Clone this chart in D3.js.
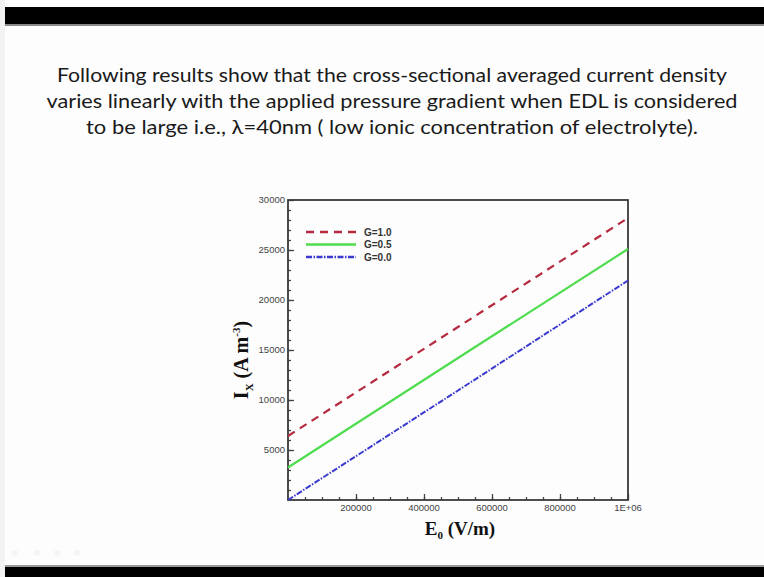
<!DOCTYPE html>
<html lang="en">
<head>
<meta charset="UTF-8" />
<title>Current density vs applied field</title>
<script src="https://d3js.org/d3.v7.min.js"></script>
<style>
  html, body { margin: 0; padding: 0; background: #fff; }
  svg { display: block; }
</style>
</head>
<body>
<div id="chart"></div>
<script>
  // values
  const titleLines = [
    "Following results show that the cross-sectional averaged current density",
    "varies linearly with the applied pressure gradient when EDL is considered",
    "to be large i.e.,  \u03bb=40nm ( low ionic concentration of electrolyte)."
  ];
  const eField = [0, 500000, 1000000];
  const seriesNames = ["G=1.0", "G=0.5", "G=0.0"];
  const g10 = [6400, 17300, 28200];
  const g05 = [3250, 14200, 25100];
  const g00 = [0, 10950, 21950];
  const xTickValues = [200000, 400000, 600000, 800000, 1000000];
  const xTickLabels = ["200000", "400000", "600000", "800000", "1E+06"];
  const yTickValues = [5000, 10000, 15000, 20000, 25000, 30000];

  const W = 764, H = 577;
  const svg = d3.select("#chart").append("svg")
    .attr("width", W).attr("height", H);

  // slide background + video bars
  svg.append("rect").attr("width", W).attr("height", H).attr("fill", "#fdfdfd");
  svg.append("rect").attr("x", 0).attr("y", 0).attr("width", 5).attr("height", H).attr("fill", "#f2f2f2");
  svg.append("rect").attr("x", 5).attr("y", 7).attr("width", W - 5).attr("height", 17).attr("fill", "#000");
  svg.append("rect").attr("x", 5).attr("y", 24).attr("width", W - 5).attr("height", 2).attr("fill", "#8a8a8a");
  svg.append("rect").attr("x", 5).attr("y", 565).attr("width", W - 5).attr("height", 3).attr("fill", "#9a9a9a");
  svg.append("rect").attr("x", 5).attr("y", 567).attr("width", W - 5).attr("height", 10).attr("fill", "#000");

  // heading text
  const titleWidths = [670, 691, 612];
  svg.append("g").selectAll("text").data(titleLines).join("text")
    .attr("x", 392)
    .attr("y", (d, i) => 82 + i * 26)
    .attr("text-anchor", "middle")
    .attr("font-family", "Lato, 'Open Sans', sans-serif")
    .attr("font-size", 19)
    .attr("fill", "#1a1a1a")
    .attr("textLength", (d, i) => titleWidths[i])
    .attr("lengthAdjust", "spacingAndGlyphs")
    .text(d => d);

  // plot area
  const plotL = 288, plotR = 628, plotT = 200, plotB = 500;
  const x = d3.scaleLinear().domain([0, 1000000]).range([plotL, plotR]);
  const y = d3.scaleLinear().domain([0, 30000]).range([plotB, plotT]);

  const g = svg.append("g");
  const tickFont = "Arial, 'Liberation Sans', sans-serif";

  // x axis, ticks pointing inwards
  const xMinor = g.append("g").attr("transform", `translate(0,${plotB})`)
    .call(d3.axisTop(x).tickValues(d3.range(50000, 1000000, 50000)).tickSize(3).tickFormat(""));
  const xMajor = g.append("g").attr("transform", `translate(0,${plotB})`)
    .call(d3.axisTop(x).tickValues(xTickValues).tickSize(6).tickFormat(""));
  g.append("g").selectAll("text").data(xTickValues).join("text")
    .attr("x", d => x(d)).attr("y", plotB + 11)
    .attr("text-anchor", "middle")
    .attr("font-family", tickFont).attr("font-size", 9.5)
    .attr("fill", "#444")
    .text((d, i) => xTickLabels[i]);

  // y axis
  const yMinor = g.append("g").attr("transform", `translate(${plotL},0)`)
    .call(d3.axisRight(y).tickValues(d3.range(1000, 30000, 1000)).tickSize(3).tickFormat(""));
  const yMajor = g.append("g").attr("transform", `translate(${plotL},0)`)
    .call(d3.axisRight(y).tickValues(yTickValues).tickSize(6).tickFormat(""));
  g.append("g").selectAll("text").data(yTickValues).join("text")
    .attr("x", plotL - 3).attr("y", d => y(d) + 3)
    .attr("text-anchor", "end")
    .attr("font-family", tickFont).attr("font-size", 9.5)
    .attr("fill", "#444")
    .text(d => d);

  [xMinor, xMajor, yMinor, yMajor].forEach(a => {
    a.select(".domain").remove();
    a.selectAll("line").attr("stroke", "#444").attr("stroke-width", 1.3);
  });

  // frame
  g.append("rect")
    .attr("x", plotL).attr("y", plotT)
    .attr("width", plotR - plotL).attr("height", plotB - plotT)
    .attr("fill", "none").attr("stroke", "#3a3a3a").attr("stroke-width", 1.8);

  // lines
  const series = [
    { name: seriesNames[0], values: g10, color: "#b52a3e", dash: "8,6", width: 2.2 },
    { name: seriesNames[1], values: g05, color: "#4fdc4f", dash: null, width: 2.2 },
    { name: seriesNames[2], values: g00, color: "#3a3ad0", dash: "6,1.5,1.5,1.5", width: 2 }
  ];
  const line = d3.line().x(d => x(d[0])).y(d => y(d[1]));
  g.append("g").selectAll("path").data(series).join("path")
    .attr("d", s => line(eField.map((e, i) => [e, s.values[i]])))
    .attr("fill", "none")
    .attr("stroke", s => s.color)
    .attr("stroke-width", s => s.width)
    .attr("stroke-dasharray", s => s.dash);

  // legend
  const leg = g.append("g").selectAll("g").data(series).join("g")
    .attr("transform", (s, i) => `translate(306,${232 + i * 12.5})`);
  leg.append("line")
    .attr("x1", 0).attr("x2", 50).attr("y1", 0).attr("y2", 0)
    .attr("stroke", s => s.color)
    .attr("stroke-width", s => s.width + 0.4)
    .attr("stroke-dasharray", s => s.dash);
  leg.append("text")
    .attr("x", 58).attr("y", 3.5)
    .attr("font-family", tickFont).attr("font-size", 10).attr("font-weight", "bold")
    .attr("fill", "#333")
    .text(s => s.name);

  // axis titles
  const serif = "'Liberation Serif', 'DejaVu Serif', serif";
  const xt = svg.append("text")
    .attr("x", 460).attr("y", 535)
    .attr("text-anchor", "middle")
    .attr("font-family", serif).attr("font-weight", "bold").attr("font-size", 19)
    .attr("fill", "#111");
  xt.append("tspan").text("E");
  xt.append("tspan").attr("font-size", 11).attr("dy", 4).text("0");
  xt.append("tspan").attr("dy", -4).text(" (V/m)");

  const yt = svg.append("text")
    .attr("transform", "translate(248,360) rotate(-90)")
    .attr("text-anchor", "middle")
    .attr("font-family", serif).attr("font-weight", "bold").attr("font-size", 20)
    .attr("fill", "#111");
  yt.append("tspan").text("I");
  yt.append("tspan").attr("font-size", 11).attr("dy", 5).text("X");
  yt.append("tspan").attr("dy", -5).text(" (A m");
  yt.append("tspan").attr("font-size", 11).attr("dy", -8).text("-3");
  yt.append("tspan").attr("dy", 8).text(")");

  // faint player icons bottom-left
  svg.append("g").selectAll("circle").data([15, 37, 57, 77]).join("circle")
    .attr("cx", d => d).attr("cy", 553).attr("r", 3)
    .attr("fill", "#f4f4f4");
</script>
</body>
</html>
